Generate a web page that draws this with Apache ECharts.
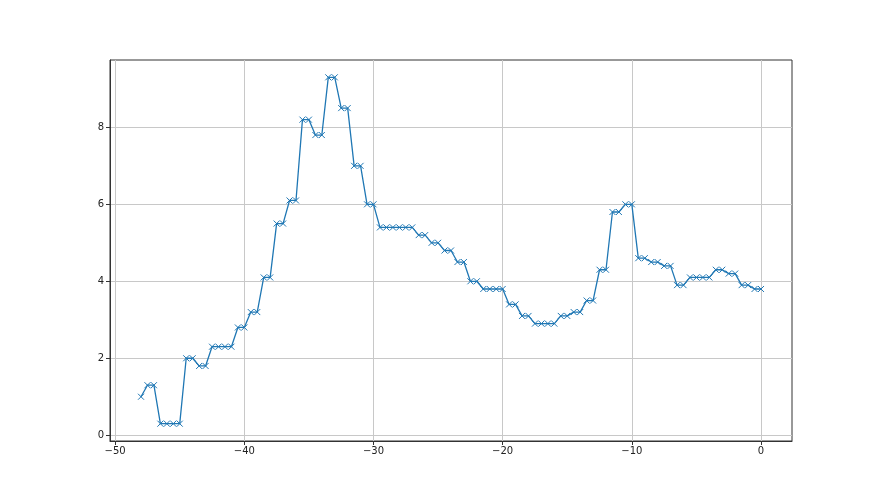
<!DOCTYPE html>
<html>
<head>
<meta charset="utf-8">
<script src="https://cdn.jsdelivr.net/npm/echarts@6/dist/echarts.min.js"></script>
<style>
html, body { margin: 0; padding: 0; background: #fff; }
#main { width: 880px; height: 495px; }
</style>
</head>
<body>
<div id="main"></div>
<script>
// x positions go every 0.5 from -48 to 0
var xs = [];
for (var i = 0; i <= 96; i++) {
    xs.push(-48 + i * 0.5);
}
var ys = [1.0, 1.3, 1.3, 0.3, 0.3, 0.3, 0.3, 2.0, 2.0, 1.8, 1.8,
    2.3, 2.3, 2.3, 2.3, 2.8, 2.8, 3.2, 3.2, 4.1, 4.1, 5.5, 5.5,
    6.1, 6.1, 8.2, 8.2, 7.8, 7.8, 9.3, 9.3, 8.5, 8.5, 7.0, 7.0,
    6.0, 6.0, 5.4, 5.4, 5.4, 5.4, 5.4, 5.4, 5.2, 5.2, 5.0, 5.0,
    4.8, 4.8, 4.5, 4.5, 4.0, 4.0, 3.8, 3.8, 3.8, 3.8, 3.4, 3.4,
    3.1, 3.1, 2.9, 2.9, 2.9, 2.9, 3.1, 3.1, 3.2, 3.2, 3.5, 3.5,
    4.3, 4.3, 5.8, 5.8, 6.0, 6.0, 4.6, 4.6, 4.5, 4.5, 4.4, 4.4,
    3.9, 3.9, 4.1, 4.1, 4.1, 4.1, 4.3, 4.3, 4.2, 4.2, 3.9, 3.9,
    3.8, 3.8];
var xTicks = [-50, -40, -30, -20, -10, 0];
var yTicks = [0, 2, 4, 6, 8];

var pts = [];
for (var k = 0; k < xs.length; k++) {
    pts.push([xs[k], ys[k]]);
}

// matplotlib prints a real minus sign
function minus(v) {
    return String(v).replace('-', '\u2212');
}

var chart = echarts.init(document.getElementById('main'));
var option = {
    backgroundColor: '#fff',
    animation: false,
    grid: {
        left: 110, right: 88, top: 60, bottom: 54,
        show: true, borderColor: '#333', borderWidth: 1
    },
    xAxis: {
        type: 'value',
        min: -50.4,
        max: 2.4,
        axisLine: { show: true, onZero: false, lineStyle: { color: '#333' } },
        axisTick: { show: true, length: 4, customValues: xTicks, lineStyle: { color: '#333' } },
        axisLabel: { customValues: xTicks, formatter: minus, color: '#222', fontSize: 10, fontFamily: 'DejaVu Sans', margin: 5 },
        splitLine: { show: true, lineStyle: { color: '#c8c8c8', width: 1 } }
    },
    yAxis: {
        type: 'value',
        min: -0.15,
        max: 9.75,
        axisLine: { show: true, onZero: false, lineStyle: { color: '#333' } },
        axisTick: { show: true, length: 4, customValues: yTicks, lineStyle: { color: '#333' } },
        axisLabel: { customValues: yTicks, color: '#222', fontSize: 10, fontFamily: 'DejaVu Sans', margin: 6 },
        splitLine: { show: true, lineStyle: { color: '#c8c8c8', width: 1 } }
    },
    series: [{
        type: 'line',
        data: pts,
        symbol: 'path://M0,0L10,10M10,0L0,10',
        symbolSize: 6,
        showAllSymbol: true,
        lineStyle: { color: '#1f77b4', width: 1.3 },
        itemStyle: { color: '#1f77b4', borderColor: '#1f77b4', borderWidth: 1 }
    }]
};
chart.setOption(option);
</script>
</body>
</html>
